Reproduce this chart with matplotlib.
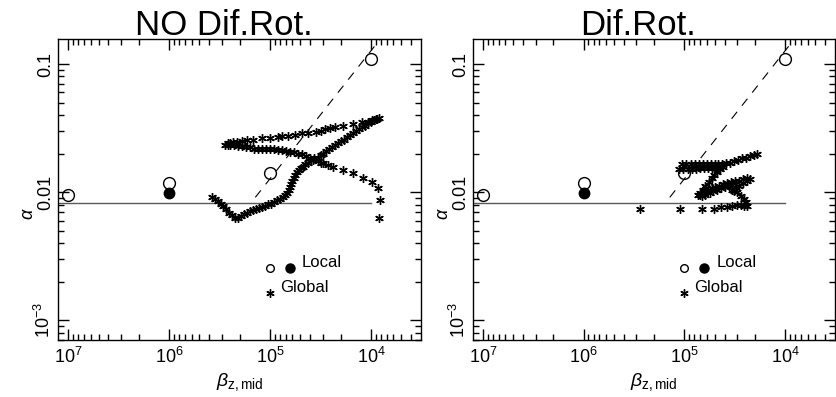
import numpy as np
import matplotlib.pyplot as plt
from matplotlib.ticker import NullFormatter, LogLocator

plt.rcParams['font.family'] = ['Liberation Sans', 'DejaVu Sans']
plt.rcParams['mathtext.fontset'] = 'custom'
plt.rcParams['mathtext.rm'] = 'Liberation Sans'
plt.rcParams['mathtext.it'] = 'Liberation Sans:italic'
plt.rcParams['mathtext.sf'] = 'Liberation Sans'

titles = ['NO Dif.Rot.', 'Dif.Rot.']

# local runs (open circles), same in both panels
local_beta = [1.0e7, 1.0e6, 1.0e5, 1.0e4]
local_alpha = [0.0095, 0.0118, 0.0141, 0.110]
# local run, filled circle
local_fill_beta = [1.0e6]
local_fill_alpha = [0.0098]

# reference lines
ref_alpha = 0.0082
ref_beta = [1.3e7, 1.0e4]
fit_beta = [1.4e5, 8.1e3]
fit_alpha = [0.0091, 0.157]

# global run, no differential rotation (log10 values)
nodr_logb = [5.58, 5.55, 5.52, 5.49, 5.47, 5.44, 5.41, 5.38, 5.35, 5.32, 5.29, 5.26, 5.23, 5.20,
             5.17, 5.14, 5.11, 5.08, 5.05, 5.02, 4.99, 4.96, 4.93, 4.90, 4.87,
             4.85, 4.83, 4.81, 4.80, 4.79, 4.78, 4.76, 4.75, 4.73, 4.71, 4.69, 4.67, 4.65,
             4.62, 4.59, 4.56, 4.53, 4.50, 4.48, 4.45, 4.42, 4.39, 4.36, 4.33, 4.30, 4.27,
             4.24, 4.21, 4.18, 4.15, 4.12, 4.09, 4.06, 4.03, 4.00, 3.97, 3.94, 3.92,
             3.95, 3.99, 4.03, 4.09, 4.18, 4.28, 4.36, 4.41, 4.46, 4.50, 4.55, 4.62, 4.68,
             4.75, 4.82, 4.88, 4.92, 5.00, 5.08, 5.17, 5.23, 5.28, 5.33, 5.37, 5.40, 5.42, 5.45,
             5.42, 5.40, 5.36, 5.32, 5.28, 5.24, 5.20, 5.16, 5.12, 5.08,
             5.04, 5.00, 4.96, 4.92, 4.88, 4.84, 4.80, 4.76, 4.72, 4.68,
             4.64, 4.60, 4.57, 4.53, 4.50, 4.48, 4.43, 4.38, 4.28, 4.18,
             4.08, 3.99, 3.93, 3.91, 3.92]
nodr_loga = [-2.04, -2.05, -2.07, -2.09, -2.11, -2.13, -2.16, -2.18, -2.20, -2.20, -2.19, -2.17, -2.16, -2.15,
             -2.14, -2.13, -2.125, -2.12, -2.11, -2.09, -2.09, -2.08, -2.06, -2.05, -2.04,
             -2.02, -2.01, -1.98, -1.96, -1.94, -1.91, -1.89, -1.87, -1.84, -1.83, -1.81, -1.80, -1.78,
             -1.77, -1.75, -1.73, -1.73, -1.71, -1.70, -1.68, -1.66, -1.65, -1.63, -1.62, -1.60, -1.59,
             -1.57, -1.55, -1.54, -1.52, -1.51, -1.49, -1.48, -1.46, -1.45, -1.44, -1.43, -1.42,
             -1.43, -1.44, -1.45, -1.45, -1.47, -1.48, -1.49, -1.50, -1.51, -1.52, -1.53, -1.54, -1.54,
             -1.55, -1.56, -1.56, -1.57, -1.58, -1.58, -1.59, -1.59, -1.60, -1.61, -1.61, -1.62, -1.62, -1.63,
             -1.63, -1.63, -1.63, -1.64, -1.64, -1.65, -1.65, -1.66, -1.66, -1.66,
             -1.66, -1.66, -1.66, -1.67, -1.67, -1.68, -1.69, -1.69, -1.70, -1.70,
             -1.72, -1.73, -1.75, -1.76, -1.77, -1.77, -1.79, -1.80, -1.83, -1.85,
             -1.89, -1.92, -1.97, -2.06, -2.20]

# global run, with differential rotation (log10 values)
dr_logb = [5.44, 5.04, 4.83, 4.71, 4.64, 4.58, 4.53, 4.48, 4.44, 4.41, 4.38,
           4.39, 4.41, 4.44, 4.48, 4.51, 4.53,
           4.50, 4.46, 4.42, 4.38, 4.35,
           4.38, 4.42, 4.46, 4.50, 4.54, 4.58, 4.62, 4.66, 4.70, 4.73, 4.77, 4.81, 4.85, 4.87,
           4.83, 4.80, 4.75, 4.72, 4.68, 4.64, 4.60, 4.56,
           4.85, 4.82, 4.80, 4.76, 4.73, 4.71, 4.68, 4.65, 4.62,
           4.66, 4.70, 4.73, 4.77, 4.81, 4.85, 4.89, 4.93, 4.97, 5.01, 5.05,
           5.02, 4.98, 4.94, 4.90, 4.86, 4.82, 4.78, 4.74, 4.70, 4.67, 4.63, 4.59, 4.55, 4.51,
           4.47, 4.43, 4.39, 4.35, 4.31, 4.28]
dr_loga = [-2.13, -2.13, -2.13, -2.13, -2.12, -2.12, -2.11, -2.10, -2.10, -2.11, -2.11,
           -2.08, -2.05, -2.03, -2.00, -1.99, -1.98,
           -1.96, -1.95, -1.93, -1.91, -1.90,
           -1.89, -1.90, -1.91, -1.91, -1.92, -1.93, -1.94, -1.95, -1.96, -1.97, -1.98, -2.00, -2.02, -2.02,
           -2.03, -2.02, -2.01, -1.99, -1.98, -1.97, -1.96, -1.95,
           -2.01, -1.98, -1.95, -1.92, -1.89, -1.87, -1.84, -1.82, -1.80,
           -1.81, -1.81, -1.81, -1.81, -1.81, -1.81, -1.82, -1.82, -1.82, -1.82, -1.82,
           -1.78, -1.78, -1.78, -1.78, -1.78, -1.78, -1.78, -1.78, -1.78, -1.78, -1.78, -1.77, -1.77, -1.76,
           -1.75, -1.73, -1.73, -1.72, -1.71, -1.70]

glob_logb = [nodr_logb, dr_logb]
glob_loga = [nodr_loga, dr_loga]

star = (6, 2, 0)

fig = plt.figure(figsize=(8.36, 3.97), dpi=100)
axes = [fig.add_axes([58/836, 57/397, 363/836, 301/397]),
        fig.add_axes([473/836, 57/397, 362/836, 301/397])]

for i, ax in enumerate(axes):
    ax.set_xscale('log')
    ax.set_yscale('log')

    ax.plot(ref_beta, [ref_alpha, ref_alpha], color='0.35', lw=1.0)
    ax.plot(fit_beta, fit_alpha, color='k', lw=0.8, ls=(0, (8, 7)))

    ax.plot(10**np.array(glob_logb[i]), 10**np.array(glob_loga[i]), ls='none',
            marker=star, ms=6.2, mew=1.0, color='k')

    ax.plot(local_beta, local_alpha, ls='none', marker='o', ms=8.5, mfc='none', mec='k', mew=1.0)
    ax.plot(local_fill_beta, local_fill_alpha, ls='none', marker='o', ms=7.5, color='k')

    # key
    ax.plot([0.584], [0.239], transform=ax.transAxes, marker='o', ms=5.5, mfc='none', mec='k', mew=1.0)
    ax.plot([0.639], [0.239], transform=ax.transAxes, marker='o', ms=6.5, color='k')
    ax.text(0.672, 0.259, 'Local', transform=ax.transAxes, fontsize=12, va='center', ha='left')
    ax.plot([0.584], [0.156], transform=ax.transAxes, marker=star, ms=6, mew=1.0, color='k')
    ax.text(0.612, 0.173, 'Global', transform=ax.transAxes, fontsize=12, va='center', ha='left')

    ax.set_xlim(1.26e7, 3.2e3)
    ax.set_ylim(7.0e-4, 0.157)

    ax.set_xticks([1e7, 1e6, 1e5, 1e4], labels=['$10^{7}$', '$10^{6}$', '$10^{5}$', '$10^{4}$'])
    ax.xaxis.set_minor_locator(LogLocator(base=10, subs=np.arange(2, 10), numticks=20))
    ax.xaxis.set_minor_formatter(NullFormatter())
    ax.set_yticks([1e-3, 1e-2, 1e-1], labels=['$10^{-3}$', '0.01', '0.1'])
    ax.yaxis.set_minor_locator(LogLocator(base=10, subs=np.arange(2, 10), numticks=20))
    ax.yaxis.set_minor_formatter(NullFormatter())

    ax.tick_params(which='both', direction='in', top=True, right=True, width=1.0, labelsize=13)
    ax.tick_params(which='major', length=8)
    ax.tick_params(which='minor', length=4)
    ax.tick_params(axis='x', pad=5)
    ax.tick_params(axis='y', pad=3)
    for lab in ax.get_yticklabels():
        lab.set_rotation(90)
        lab.set_va('center')
    for s in ax.spines.values():
        s.set_linewidth(1.0)

    ax.set_xlabel(r'$\beta_{\mathrm{z,mid}}$', fontsize=14, labelpad=3)
    ax.set_ylabel(r'$\alpha$', fontsize=13)
    ax.yaxis.set_label_coords(-0.058, 0.42)

    ax.text(0.457, 1.013, titles[i], transform=ax.transAxes, fontsize=25,
            ha='center', va='baseline')

fig.savefig('out.png', dpi=100)
